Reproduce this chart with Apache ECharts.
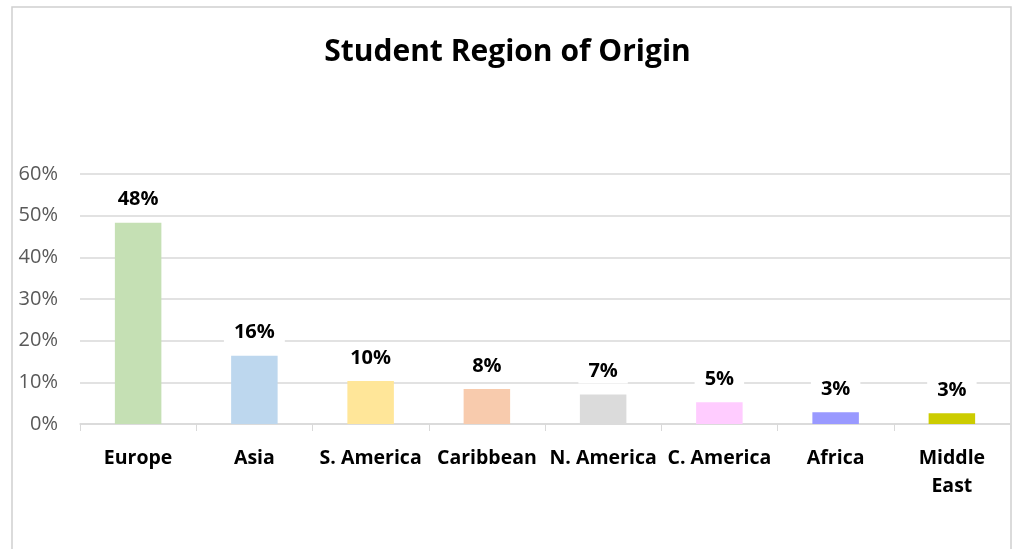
<!DOCTYPE html>
<html>
<head>
<meta charset="utf-8">
<script src="https://cdn.jsdelivr.net/npm/echarts@6/dist/echarts.min.js"></script>
<style>
  html, body { margin: 0; padding: 0; background: #fff; }
  #chart { width: 1015px; height: 549px; }
</style>
</head>
<body>
<div id="chart"></div>
<script>
// data (percent)
var regions = ['Europe', 'Asia', 'S. America', 'Caribbean', 'N. America', 'C. America', 'Africa', 'Middle\nEast'];
var shares = [48.3, 16.4, 10.3, 8.4, 7.1, 5.2, 2.8, 2.6];
var barColors = ['#C5E0B4', '#BDD7EE', '#FFE699', '#F8CBAD', '#DBDBDB', '#FFCCFF', '#9999FF', '#CCCC00'];
var yTicks = [0, 10, 20, 30, 40, 50, 60];

var font = '"Open Sans", "Noto Sans", sans-serif';

var chart = echarts.init(document.getElementById('chart'));
chart.setOption({
  animation: false,
  title: {
    text: 'Student Region of Origin',
    left: 'center',
    top: 32,
    textStyle: { fontFamily: font, fontSize: 30, fontWeight: 'bold', color: '#000' }
  },
  graphic: [{
    type: 'rect',
    shape: { x: 12, y: 7, width: 999, height: 560 },
    style: { fill: 'none', stroke: '#D0D0D0', lineWidth: 1.5 },
    silent: true
  }],
  grid: { left: 80, right: 5, top: 174, bottom: 125 },
  xAxis: {
    type: 'category',
    data: regions,
    axisLine: { lineStyle: { color: '#D9D9D9', width: 1.5 } },
    axisTick: { show: true, length: 7, lineStyle: { color: '#D9D9D9' } },
    axisLabel: {
      interval: 0,
      margin: 20,
      fontFamily: font, fontSize: 19.5, fontWeight: 'bold', color: '#000',
      lineHeight: 28
    }
  },
  yAxis: {
    type: 'value',
    min: yTicks[0],
    max: yTicks[yTicks.length - 1],
    interval: 10,
    axisLine: { show: false },
    axisTick: { show: false },
    axisLabel: {
      margin: 22,
      formatter: '{value}%',
      fontFamily: font, fontSize: 20, color: '#595959'
    },
    splitLine: { lineStyle: { color: '#D9D9D9', width: 1.5 } }
  },
  series: [{
    type: 'bar',
    barWidth: '40%',
    data: shares.map(function (v, i) {
      return { value: v, itemStyle: { color: barColors[i] } };
    }),
    label: {
      show: true,
      position: 'top',
      distance: 11,
      formatter: function (p) { return Math.round(p.value) + '%'; },
      fontFamily: font, fontSize: 20, fontWeight: 'bold', color: '#000',
      backgroundColor: '#fff',
      padding: [2, 10]
    }
  }]
});
</script>
</body>
</html>
